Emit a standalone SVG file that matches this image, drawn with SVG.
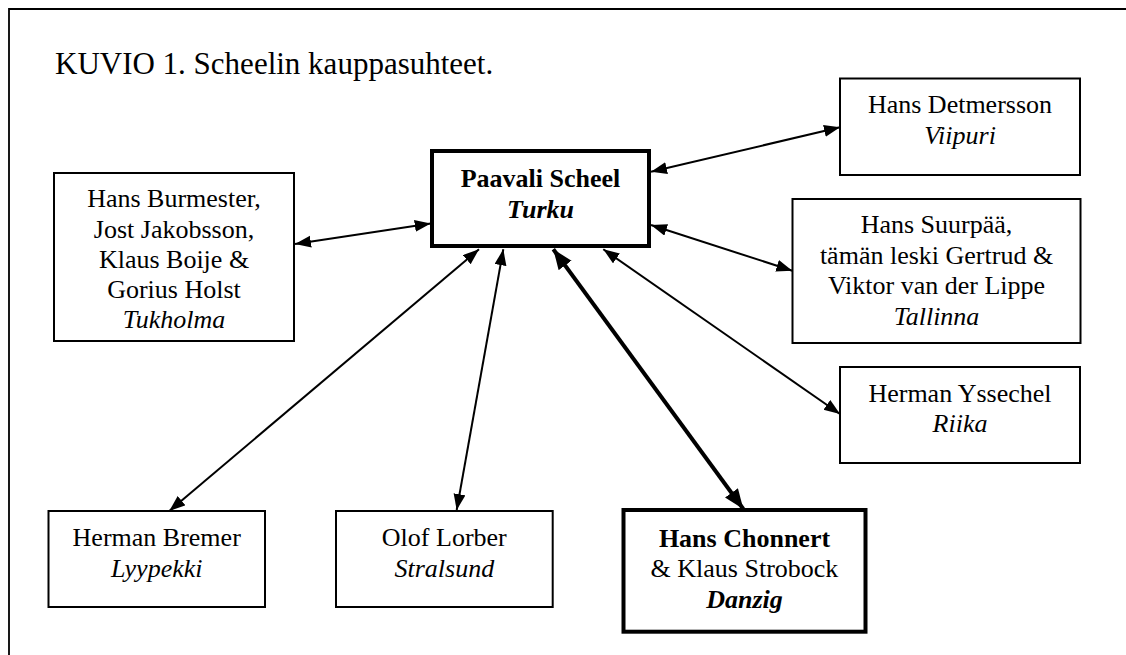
<svg xmlns="http://www.w3.org/2000/svg" width="1126" height="655" viewBox="0 0 1126 655">
<defs>
<style>
text{font-family:"Liberation Serif","Times New Roman",serif;font-size:26px;fill:#000;text-anchor:middle}
.title{font-size:31px;text-anchor:start}
.b{font-weight:bold}
.i{font-style:italic}
.box{fill:#fff;stroke:#000;stroke-width:2}
.tbox{fill:#fff;stroke:#000;stroke-width:4}
.ln{stroke:#000;stroke-width:2;fill:none;marker-start:url(#ah);marker-end:url(#ah)}
.tln{stroke:#000;stroke-width:4;fill:none;marker-start:url(#ahT);marker-end:url(#ahT)}
</style>
<marker id="ah" markerUnits="userSpaceOnUse" markerWidth="17" markerHeight="13" refX="16" refY="6" orient="auto-start-reverse"><path d="M0,0 L16,6 L0,12 z" fill="#000"/></marker>
<marker id="ahT" markerUnits="userSpaceOnUse" markerWidth="21" markerHeight="17" refX="20" refY="8" orient="auto-start-reverse"><path d="M0,0 L20,8 L0,16 z" fill="#000"/></marker>
</defs>
<rect width="1126" height="655" fill="#fff"/>
<path d="M9,655 V9 H1126" fill="none" stroke="#000" stroke-width="1.8"/>
<text class="title" x="55" y="74">KUVIO 1. Scheelin kauppasuhteet.</text>

<g id="connectors">
<line class="ln" x1="651" y1="171.7" x2="840" y2="127.3"/>
<line class="ln" x1="651" y1="225" x2="792.3" y2="270.7"/>
<line class="ln" x1="603.3" y1="249.3" x2="840" y2="414"/>
<line class="ln" x1="430.7" y1="223.5" x2="295" y2="244"/>
<line class="ln" x1="479" y1="249.3" x2="169.3" y2="511"/>
<line class="ln" x1="503.3" y1="249.3" x2="456.7" y2="510"/>
<line class="tln" x1="553.3" y1="249.3" x2="743.3" y2="509"/>
</g>

<g id="paavali">
<rect class="tbox" x="432" y="151" width="217" height="95"/>
<text class="b" x="540.5" y="187">Paavali Scheel</text>
<text class="b i" x="540.5" y="218">Turku</text>
</g>

<g id="tukholma">
<rect class="box" x="54" y="173" width="240" height="168"/>
<text x="174" y="207">Hans Burmester,</text>
<text x="174" y="237.5">Jost Jakobsson,</text>
<text x="174" y="268">Klaus Boije &amp;</text>
<text x="174" y="298">Gorius Holst</text>
<text class="i" x="174" y="328">Tukholma</text>
</g>

<g id="viipuri">
<rect class="box" x="840" y="78.5" width="240" height="96.5"/>
<text x="960" y="113">Hans Detmersson</text>
<text class="i" x="960" y="144">Viipuri</text>
</g>

<g id="tallinna">
<rect class="box" x="792.5" y="199" width="288" height="144"/>
<text x="936.5" y="233">Hans Suurpää,</text>
<text x="936.5" y="264">tämän leski Gertrud &amp;</text>
<text x="936.5" y="294.3">Viktor van der Lippe</text>
<text class="i" x="936.5" y="324.5">Tallinna</text>
</g>

<g id="riika">
<rect class="box" x="840" y="367" width="240" height="96"/>
<text x="960" y="402">Herman Yssechel</text>
<text class="i" x="960" y="432">Riika</text>
</g>

<g id="lyypekki">
<rect class="box" x="48.5" y="511" width="216.5" height="96"/>
<text x="156.7" y="546">Herman Bremer</text>
<text class="i" x="156.7" y="577">Lyypekki</text>
</g>

<g id="stralsund">
<rect class="box" x="336" y="511" width="216.7" height="96"/>
<text x="444.3" y="546">Olof Lorber</text>
<text class="i" x="444.3" y="576.5">Stralsund</text>
</g>

<g id="danzig">
<rect class="tbox" x="623.5" y="510" width="242" height="121.7"/>
<text class="b" x="744.5" y="547">Hans Chonnert</text>
<text x="744.5" y="577">&amp; Klaus Strobock</text>
<text class="b i" x="744.5" y="607.5">Danzig</text>
</g>
</svg>
